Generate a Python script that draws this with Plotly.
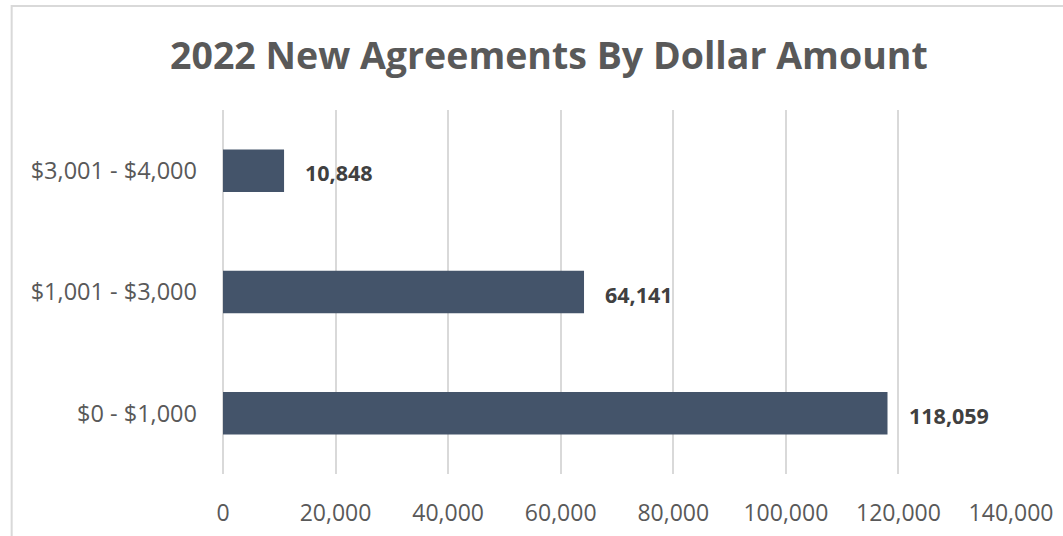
import plotly.graph_objects as go

categories = ["$0 - $1,000", "$1,001 - $3,000", "$3,001 - $4,000"]
values = [118059, 64141, 10848]
tick_vals = [0, 20000, 40000, 60000, 80000, 100000, 120000, 140000]
tick_text = ["0", "20,000", "40,000", "60,000", "80,000", "100,000", "120,000", "140,000"]
title_text = "2022 New Agreements By Dollar Amount"

W, H = 1063, 536
PL, PR, PT, PB = 223.2, 1010.7, 110, 474
L, R, T, B = PL, W - PR, PT, H - PB
pw, ph = PR - PL, PB - PT

def px_x(p):
    return (p - L) / pw

def px_y(p):
    return 1 - (p - T) / ph

fig = go.Figure()
fig.add_trace(go.Bar(
    x=values, y=categories, orientation="h",
    marker=dict(color="#44546A", line=dict(width=0)),
    width=0.35, hoverinfo="skip",
))

for v, c in zip(values, categories):
    fig.add_annotation(x=v, y=c, xref="x", yref="y", text=f"<b>{v:,}</b>",
                       showarrow=False, xanchor="left", xshift=19, yshift=-2,
                       font=dict(family="Open Sans", size=21.5, color="#404040"))

fig.add_annotation(x=px_x(549), y=px_y(54), xref="paper", yref="paper",
                   text=f"<b>{title_text}</b>", showarrow=False,
                   xanchor="center", yanchor="middle",
                   font=dict(family="Open Sans", size=37.5, color="#595959"))

fig.add_shape(type="rect", xref="paper", yref="paper",
              x0=px_x(12), x1=px_x(1100), y0=px_y(580), y1=px_y(6),
              line=dict(color="#D9D9D9", width=2), fillcolor="rgba(0,0,0,0)", layer="below")

fig.update_layout(
    width=W, height=H,
    margin=dict(l=L, r=R, t=T, b=B, autoexpand=False),
    paper_bgcolor="white", plot_bgcolor="white",
    showlegend=False,
    font=dict(family="Open Sans", color="#595959", size=23),
    xaxis=dict(range=[0, 140000], tickvals=tick_vals, ticktext=tick_text,
               showgrid=True, gridcolor="#D9D9D9", gridwidth=1.5,
               zeroline=True, zerolinecolor="#D9D9D9", zerolinewidth=1.5,
               showline=False, ticks="", ticklabelstandoff=23,
               tickfont=dict(size=23, color="#595959"), fixedrange=True),
    yaxis=dict(categoryorder="array", categoryarray=categories,
               showgrid=False, zeroline=False, showline=False, ticks="",
               ticklabelstandoff=25,
               tickfont=dict(size=23.5, color="#595959"), fixedrange=True),
)

fig.write_html("out.html", config={"displayModeBar": False},
               post_script="document.body.style.margin='0';document.body.style.overflow='hidden';")
